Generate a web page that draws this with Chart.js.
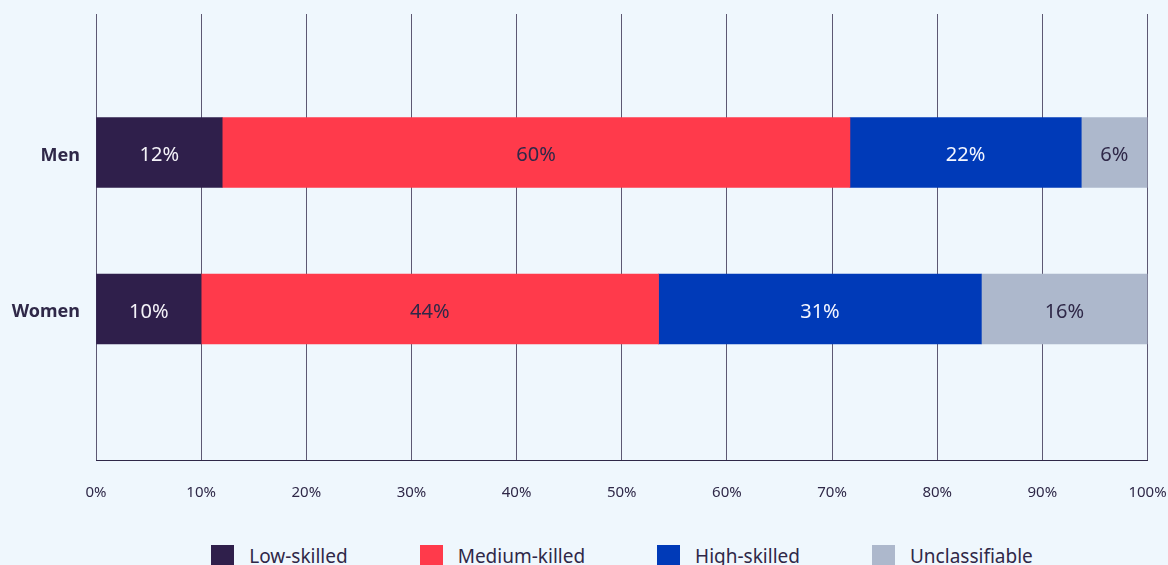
<!DOCTYPE html>
<html lang="en">
<head>
    <meta charset="UTF-8">
    <title>Skill level by sex</title>
    <script src="https://cdn.jsdelivr.net/npm/chart.js"></script>
    <style>
        html, body {
            margin: 0;
            padding: 0;
            background: #eff7fd;
            overflow: hidden;
            font-family: "Noto Sans", "Open Sans", sans-serif;
            color: #2f2848;
        }
        .wrap {
            position: relative;
            width: 1168px;
            height: 565px;
        }
        .chart-box {
            position: absolute;
            left: 0;
            top: 0;
            width: 1168px;
            height: 534px;
        }
        .legend {
            position: absolute;
            left: 96px;
            width: 1052px;
            top: 543px;
            display: flex;
            justify-content: center;
            gap: 72px;
            font-size: 19px;
        }
        .legend-item {
            display: flex;
            align-items: center;
        }
        .legend-swatch {
            width: 23px;
            height: 23px;
            margin-right: 15px;
        }
    </style>
</head>
<body>
    <div class="wrap">
        <div class="chart-box">
            <canvas id="grafico"></canvas>
        </div>
        <div class="legend" id="legenda"></div>
    </div>

    <script>
        // categorias e séries (% do total)
        const categorias = ['Men', 'Women'];
        const series = ['Low-skilled', 'Medium-killed', 'High-skilled', 'Unclassifiable'];
        const lowSkilled = [12.0, 10.0];
        const mediumSkilled = [59.7, 43.5];
        const highSkilled = [22.0, 30.7];
        const unclassifiable = [6.3, 15.8];
        const ticksX = [0, 10, 20, 30, 40, 50, 60, 70, 80, 90, 100];

        const cores = ['#2f1f4b', '#ff3a4b', '#003ab8', '#adb8cc'];
        const coresTexto = ['#f4f2f8', '#2f2848', '#f4f6ff', '#2f2848'];
        const valores = [lowSkilled, mediumSkilled, highSkilled, unclassifiable];

        // escreve o percentual no meio de cada segmento
        const rotulosBarras = {
            id: 'rotulosBarras',
            afterDatasetsDraw(chart) {
                const ctx = chart.ctx;
                ctx.save();
                ctx.font = '20px "Noto Sans", "Open Sans", sans-serif';
                ctx.textAlign = 'center';
                ctx.textBaseline = 'middle';
                chart.data.datasets.forEach((ds, i) => {
                    chart.getDatasetMeta(i).data.forEach((bar, j) => {
                        const p = bar.getProps(['x', 'y', 'base'], true);
                        ctx.fillStyle = coresTexto[i];
                        ctx.fillText(Math.round(ds.data[j]) + '%', (p.x + p.base) / 2, p.y + 3);
                    });
                });
                ctx.restore();
            }
        };

        const ctx = document.getElementById('grafico').getContext('2d');
        const grafico = new Chart(ctx, {
            type: 'bar',
            data: {
                labels: categorias,
                datasets: series.map((nome, i) => ({
                    label: nome,
                    data: valores[i],
                    backgroundColor: cores[i],
                    borderWidth: 0,
                    barThickness: 70
                }))
            },
            options: {
                indexAxis: 'y',
                responsive: true,
                maintainAspectRatio: false,
                animation: false,
                layout: {
                    padding: { top: 14, left: 10, right: 0, bottom: 8 }
                },
                plugins: {
                    legend: { display: false },
                    tooltip: { enabled: false }
                },
                scales: {
                    x: {
                        stacked: true,
                        min: 0,
                        max: 100,
                        afterBuildTicks: (axis) => {
                            axis.ticks = ticksX.map(v => ({ value: v }));
                        },
                        afterFit: (axis) => {
                            axis.paddingRight = 20.5;
                        },
                        grid: {
                            color: '#5d5873',
                            lineWidth: 1,
                            drawTicks: false
                        },
                        border: { display: true, color: '#2f2848', width: 1 },
                        ticks: {
                            padding: 24,
                            color: '#2f2848',
                            font: { family: '"Noto Sans", "Open Sans", sans-serif', size: 15 },
                            callback: v => v + '%'
                        }
                    },
                    y: {
                        stacked: true,
                        // afasta as barras do topo e da base como no layout original
                        afterBuildTicks: (axis) => {
                            axis._startValue = -0.885;
                            axis._valueRange = 2.85;
                        },
                        afterFit: (axis) => {
                            axis.width = 86;
                            axis.paddingTop = 0;
                            axis.paddingBottom = 0;
                        },
                        grid: { display: false, drawTicks: false },
                        border: { display: false },
                        ticks: {
                            padding: 16,
                            labelOffset: 3,
                            color: '#2f2848',
                            font: { family: '"Noto Sans", "Open Sans", sans-serif', size: 18, weight: 'bold' }
                        }
                    }
                }
            },
            plugins: [rotulosBarras]
        });

        // legenda em HTML abaixo do gráfico
        const legenda = document.getElementById('legenda');
        series.forEach((nome, i) => {
            const item = document.createElement('div');
            item.className = 'legend-item';
            item.innerHTML = '<span class="legend-swatch" style="background:' + cores[i] + '"></span><span>' + nome + '</span>';
            legenda.appendChild(item);
        });
    </script>
</body>
</html>
